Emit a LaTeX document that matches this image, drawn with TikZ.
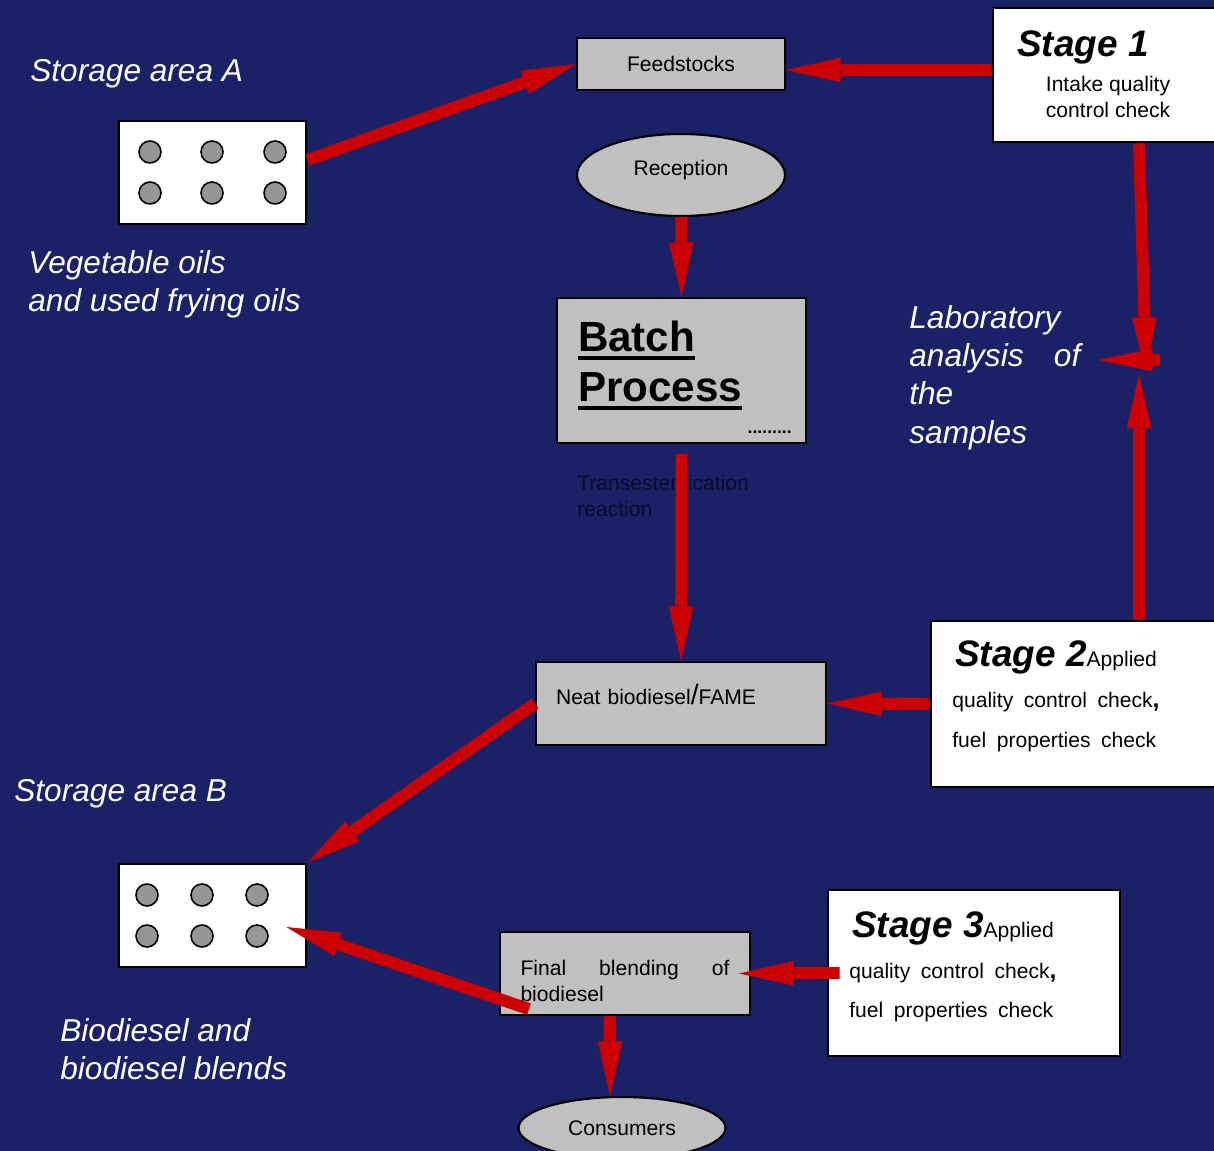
\documentclass[tikz,border=0pt]{standalone}
\usepackage{fontspec}
\setmainfont{Liberation Sans}
\usetikzlibrary{arrows.meta,shapes.geometric}

\definecolor{navy}{RGB}{27,33,103}
\definecolor{flowred}{RGB}{204,0,0}
\definecolor{boxgray}{RGB}{192,192,192}
\definecolor{holegray}{RGB}{150,150,150}
\definecolor{darktext}{RGB}{12,12,40}

\newsavebox{\ulbox}
\newcommand{\thickul}[1]{\leavevmode\sbox{\ulbox}{#1}\rlap{\rule[-4.6pt]{\wd\ulbox}{2.3pt}}\usebox{\ulbox}}
\newcommand{\bodyfont}{\fontsize{12}{15}\selectfont}
\newcommand{\widefont}{\fontsize{12}{15}\selectfont\spaceskip=0.5em\relax}
\newcommand{\stagefont}{\fontsize{21}{24}\selectfont\bfseries\itshape}
\newcommand{\capfont}{\fontsize{18}{21.8}\selectfont\itshape}

\begin{document}
\begin{tikzpicture}[x=0.02cm, y=-0.02cm]
    \tikzstyle{graybox}  = [shape=rectangle, draw=black, fill=boxgray, line width=1.2pt, inner sep=0pt]
    \tikzstyle{whitebox} = [shape=rectangle, draw=black, fill=white, line width=1.6pt, inner sep=0pt]
    \tikzstyle{grayoval} = [shape=ellipse, draw=black, fill=boxgray, line width=1.2pt, inner sep=0pt]
    \tikzstyle{hole}     = [shape=circle, draw=black, fill=holegray, line width=0.9pt, minimum size=0.44cm, inner sep=0pt]
    \tikzstyle{flow}     = [draw=flowred, line width=6.8pt, -{Triangle[length=31pt, width=14pt, line width=0pt 0 0]}]
    \tikzstyle{caption}  = [text=white, font=\capfont, inner sep=0pt]

    % background
    \fill [navy] (0,0) rectangle (1214,1151);
    \useasboundingbox (0,0) rectangle (1214,1151);

    % process chain
    \node (feed)  [graybox, minimum width=4.16cm, minimum height=1.04cm] at (681,64) {\bodyfont Feedstocks};
    \node (recep) [grayoval, minimum width=4.16cm, minimum height=1.64cm, text depth=0.29cm] at (681,175) {\bodyfont Reception};
    \node (batch) [graybox, minimum width=4.98cm, minimum height=2.9cm, text width=4.14cm, inner xsep=0.42cm, align=left,
        text depth=38.6pt, font=\fontsize{24}{28.3}\selectfont\bfseries] at (681.5,370.5) {\thickul{Batch}\\\thickul{Process}};
    \node (batchdots) [anchor=base east, inner sep=0pt, font=\fontsize{10}{12}\selectfont\bfseries] at (792,434) {.........};
    \node (trans) [anchor=north west, inner sep=0pt, text=darktext, align=left, font=\bodyfont] at (577,475) {Transesterification\\reaction};
    \node (neat)  [graybox, minimum width=5.8cm, minimum height=1.66cm, text width=5.0cm, inner xsep=0.4cm, text depth=0.37cm, align=left, font=\widefont]
        at (681,703.5) {Neat biodiesel{\fontsize{16}{16}\selectfont/}FAME};
    \node (final) [graybox, minimum width=5cm, minimum height=1.66cm, text width=4.18cm, inner xsep=0.41cm, align=left, font=\bodyfont]
        at (625,973.5) {\rule{0pt}{17pt}Final\hfill blending\hfill of\\biodiesel};
    \node (cons)  [grayoval, minimum width=4.14cm, minimum height=1.24cm] at (622,1128) {\bodyfont Consumers};

    % quality control stages
    \node (stage1) [whitebox, minimum width=4.58cm, minimum height=2.68cm] at (1107.5,75) {};
    \node (stage1title) [anchor=base west, inner sep=0pt, font=\stagefont] at (1017,57) {Stage 1};
    \node (stage1text)  [inner sep=0pt, align=center, font=\bodyfont] at (1108,97) {Intake quality\\control check};

    \node (stage2) [whitebox, minimum width=5.82cm, minimum height=3.32cm] at (1076.5,704) {};
    \node (stage2title) [anchor=base west, inner sep=0pt] at (955,667) {{\stagefont Stage 2}{\bodyfont Applied}};
    \node (stage2a) [anchor=base west, inner sep=0pt, font=\widefont] at (952,708) {quality control check{\fontsize{14}{14}\selectfont\bfseries,}};
    \node (stage2b) [anchor=base west, inner sep=0pt, font=\widefont] at (952,747) {fuel properties check};

    \node (stage3) [whitebox, minimum width=5.84cm, minimum height=3.32cm] at (974,973) {};
    \node (stage3title) [anchor=base west, inner sep=0pt] at (852,937) {{\stagefont Stage 3}{\bodyfont Applied}};
    \node (stage3a) [anchor=base west, inner sep=0pt, font=\widefont] at (849,978) {quality control check{\fontsize{14}{14}\selectfont\bfseries,}};
    \node (stage3b) [anchor=base west, inner sep=0pt, font=\widefont] at (849,1017) {fuel properties check};

    % storage areas
    \node (storA) [whitebox, minimum width=3.74cm, minimum height=2.06cm] at (212.5,172.5) {};
    \foreach \x in {150,212,275} {
        \node (holeA-\x-1) [hole] at (\x,152) {};
        \node (holeA-\x-2) [hole] at (\x,193) {};
    }
    \node (storB) [whitebox, minimum width=3.74cm, minimum height=2.06cm] at (212.5,915.5) {};
    \foreach \x in {147,202,257} {
        \node (holeB-\x-1) [hole] at (\x,895) {};
        \node (holeB-\x-2) [hole] at (\x,936) {};
    }

    % captions
    \node (capA)   [caption, anchor=base west] at (30,82) {Storage area A};
    \node (capoil) [caption, anchor=north west, align=left] at (28,250) {Vegetable oils\\and used frying oils};
    \node (capB)   [caption, anchor=base west] at (14,802) {Storage area B};
    \node (capbio) [caption, anchor=north west, align=left] at (60,1018) {Biodiesel and\\biodiesel blends};
    \node (lab)    [caption, anchor=north west, align=left, text width=3.42cm] at (909,305) {Laboratory\\analysis\hfill of\\the\\samples};

    % flows
    \draw [flow] ([yshift=0.25cm]storA.east) -- (feed.west);
    \draw [flow] ([yshift=0.1cm]stage1.west) -- ([yshift=-0.12cm]feed.east);
    \draw [flow] (recep.south) -- (batch.north);
    \draw [flow] ([yshift=-0.2cm]batch.south) -- (neat.north);
    \draw [flow] (stage2.west) -- (neat.east);
    \draw [flow] (neat.west) -- (storB.north east);
    \draw [flow] ([xshift=0.26cm]stage3.west) -- ([xshift=-0.24cm]final.east);
    \draw [flow] ([xshift=0.6cm,yshift=0.14cm]final.south west) -- ([xshift=-0.42cm,yshift=-0.23cm]storB.east);
    \draw [flow] ([xshift=-0.3cm]final.south) -- ([xshift=-0.24cm]cons.north);

    % samples to the laboratory
    \coordinate (labdown) at (1146,372);
    \coordinate (labup)   at (1139,374);
    \coordinate (labjoin) at (1160,360);
    \coordinate (labtip)  at (1098,360);
    \draw [flow] ([xshift=0.63cm]stage1.south) -- (labdown);
    \draw [flow] ([xshift=1.25cm]stage2.north) -- (labup);
    \draw [flow, -{Triangle[length=31pt, width=13pt, line width=0pt 0 0]}] (labjoin) -- (labtip);
\end{tikzpicture}
\end{document}
